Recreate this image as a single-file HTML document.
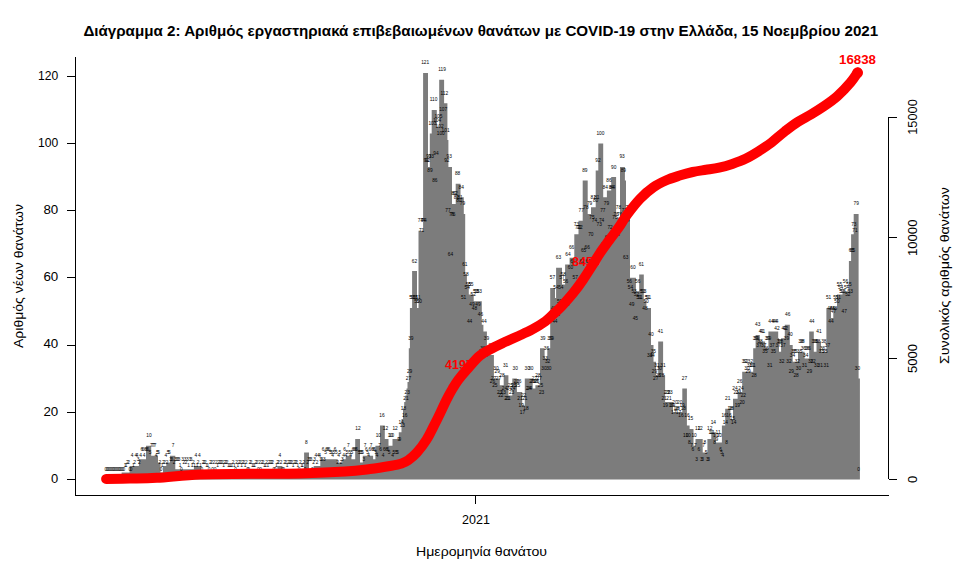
<!DOCTYPE html>
<html><head><meta charset="utf-8"><title>chart</title>
<style>
html,body{margin:0;padding:0;background:#fff;}
svg{display:block;font-family:"Liberation Sans",sans-serif;}
.ax path{stroke:#000;stroke-width:1;fill:none;shape-rendering:crispEdges}
.tl text{font-size:12.5px;fill:#000}
.al text{font-size:13px;fill:#000}
.lb text{font-size:4.8px;fill:#000;text-anchor:middle}
.rl text{font-size:13px;font-weight:bold;fill:#ff0000}
</style></head><body>
<svg width="971" height="569" viewBox="0 0 971 569">
<rect width="971" height="569" fill="#fff"/>
<text x="83.4" y="36" font-size="15" font-weight="bold" textLength="794.8" lengthAdjust="spacingAndGlyphs">Διάγραμμα 2: Αριθμός εργαστηριακά επιβεβαιωμένων θανάτων με COVID-19 στην Ελλάδα, 15 Νοεμβρίου 2021</text>
<polygon points="104.6,479.6 104.6,477.3 121.6,477.3 121.6,472.6 129.6,472.6 129.6,465.9 138.9,465.9 138.9,459.2 146.0,459.2 146.0,445.7 151.2,445.7 151.2,455.8 158.0,455.8 158.0,462.5 160.5,462.5 160.5,472.6 163.0,472.6 163.0,465.9 166.3,465.9 166.3,462.5 170.0,462.5 170.0,455.8 175.3,455.8 175.3,469.2 193.9,469.2 193.9,465.9 201.3,465.9 201.3,472.6 277.4,472.6 277.4,465.9 282.4,465.9 282.4,472.6 304.1,472.6 304.1,452.4 309.0,452.4 309.0,469.2 313.7,469.2 313.7,465.9 320.3,465.9 320.3,459.2 337.7,459.2 337.7,462.5 342.3,462.5 342.3,459.2 345.7,459.2 345.7,455.8 351.4,455.8 351.4,459.2 355.2,459.2 355.2,439.0 360.0,439.0 360.0,462.5 362.8,462.5 362.8,455.8 373.1,455.8 373.1,459.2 375.4,459.2 375.4,445.7 380.0,445.7 380.0,425.6 384.8,425.6 384.8,439.0 388.5,439.0 388.5,445.7 392.5,445.7 392.5,439.0 398.8,439.0 398.8,432.3 401.5,432.3 401.5,418.9 403.0,418.9 403.0,408.8 404.2,408.8 404.2,402.1 405.4,402.1 405.4,395.4 406.5,395.4 406.5,388.6 407.5,388.6 407.5,381.9 408.8,381.9 408.8,348.3 409.9,348.3 409.9,308.0 412.1,308.0 412.1,271.1 417.0,271.1 417.0,308.0 418.5,308.0 418.5,230.8 423.1,230.8 423.1,73.0 428.0,73.0 428.0,167.0 429.8,167.0 429.8,133.4 431.7,133.4 431.7,109.9 436.8,109.9 436.8,126.7 439.2,126.7 439.2,79.7 444.1,79.7 444.1,103.2 447.4,103.2 447.4,140.1 448.4,140.1 448.4,167.0 452.0,167.0 452.0,203.9 455.7,203.9 455.7,183.8 460.5,183.8 460.5,197.2 463.8,197.2 463.8,214.0 465.2,214.0 465.2,274.5 466.9,274.5 466.9,284.5 468.8,284.5 468.8,294.6 473.7,294.6 473.7,301.3 481.8,301.3 481.8,324.8 483.4,324.8 483.4,331.5 486.9,331.5 486.9,348.3 489.3,348.3 489.3,355.1 493.9,355.1 493.9,378.6 499.8,378.6 499.8,385.3 503.7,385.3 503.7,375.2 508.4,375.2 508.4,395.4 512.3,395.4 512.3,378.6 516.9,378.6 516.9,392.0 522.2,392.0 522.2,405.4 524.8,405.4 524.8,378.6 532.7,378.6 532.7,388.6 535.4,388.6 535.4,385.3 540.0,385.3 540.0,348.3 544.6,348.3 544.6,358.4 547.3,358.4 547.3,348.3 550.2,348.3 550.2,287.9 555.0,287.9 555.0,298.0 556.1,298.0 556.1,267.7 562.0,267.7 562.0,284.5 565.1,284.5 565.1,264.4 569.6,264.4 569.6,257.7 574.3,257.7 574.3,234.2 578.5,234.2 578.5,220.7 582.7,220.7 582.7,180.4 587.7,180.4 587.7,214.0 591.0,214.0 591.0,207.3 595.7,207.3 595.7,170.4 598.3,170.4 598.3,143.5 603.2,143.5 603.2,197.2 606.9,197.2 606.9,190.5 611.2,190.5 611.2,177.1 616.1,177.1 616.1,217.4 620.0,217.4 620.0,167.0 624.9,167.0 624.9,180.4 626.0,180.4 626.0,217.4 630.0,217.4 630.0,277.8 635.9,277.8 635.9,291.3 639.2,291.3 639.2,274.5 643.8,274.5 643.8,301.3 646.4,301.3 646.4,308.0 651.0,308.0 651.0,345.0 653.5,345.0 653.5,361.8 656.0,361.8 656.0,375.2 658.2,375.2 658.2,341.6 663.1,341.6 663.1,375.2 665.1,375.2 665.1,402.1 673.0,402.1 673.0,412.1 682.3,412.1 682.3,388.6 686.9,388.6 686.9,425.6 689.6,425.6 689.6,428.9 693.5,428.9 693.5,445.7 695.5,445.7 695.5,439.0 702.7,439.0 702.7,452.4 707.4,452.4 707.4,439.0 711.3,439.0 711.3,432.3 715.9,432.3 715.9,442.4 721.9,442.4 721.9,425.6 725.2,425.6 725.2,408.8 730.4,408.8 730.4,418.9 733.0,418.9 733.0,398.7 737.6,398.7 737.6,392.0 742.2,392.0 742.2,371.8 753.2,371.8 753.2,348.3 755.6,348.3 755.6,334.9 759.8,334.9 759.8,341.6 765.1,341.6 765.1,348.3 768.4,348.3 768.4,331.5 778.2,331.5 778.2,338.3 779.0,338.3 779.0,351.7 781.1,351.7 781.1,338.3 784.8,338.3 784.8,324.8 789.8,324.8 789.8,345.0 792.7,345.0 792.7,361.8 798.0,361.8 798.0,351.7 804.6,351.7 804.6,358.4 809.2,358.4 809.2,331.5 813.8,331.5 813.8,351.7 816.5,351.7 816.5,341.6 821.0,341.6 821.0,351.7 826.4,351.7 826.4,308.0 831.0,308.0 831.0,318.1 833.3,318.1 833.3,308.0 837.0,308.0 837.0,294.6 842.5,294.6 842.5,291.3 848.9,291.3 848.9,261.0 851.1,261.0 851.1,234.2 853.7,234.2 853.7,214.0 858.6,214.0 858.6,378.6 859.9,378.6 859.9,479.6" fill="#7c7c7c"/>
<g class="lb">
<text x="105.8" y="470.7">0</text>
<text x="107.0" y="470.7">0</text>
<text x="108.2" y="470.7">0</text>
<text x="109.4" y="470.7">0</text>
<text x="110.6" y="470.7">0</text>
<text x="111.8" y="470.7">0</text>
<text x="113.0" y="470.7">0</text>
<text x="114.2" y="470.7">0</text>
<text x="115.4" y="470.7">0</text>
<text x="116.6" y="470.7">0</text>
<text x="117.8" y="470.7">0</text>
<text x="119.0" y="470.7">0</text>
<text x="120.2" y="470.7">0</text>
<text x="121.4" y="470.7">0</text>
<text x="122.6" y="470.7">0</text>
<text x="123.8" y="470.7">0</text>
<text x="125.0" y="467.3">1</text>
<text x="126.2" y="467.3">1</text>
<text x="127.4" y="464.0">2</text>
<text x="128.6" y="464.0">2</text>
<text x="129.8" y="470.7">0</text>
<text x="131.0" y="470.7">0</text>
<text x="132.2" y="457.3">4</text>
<text x="133.4" y="467.3">1</text>
<text x="134.6" y="464.0">2</text>
<text x="135.8" y="457.3">4</text>
<text x="137.0" y="457.3">4</text>
<text x="138.2" y="460.6">3</text>
<text x="139.4" y="464.0">2</text>
<text x="140.6" y="457.3">4</text>
<text x="141.8" y="450.6">6</text>
<text x="143.0" y="450.6">6</text>
<text x="144.2" y="457.3">4</text>
<text x="145.4" y="450.6">6</text>
<text x="146.6" y="450.6">6</text>
<text x="147.8" y="450.6">6</text>
<text x="149.0" y="437.1">10</text>
<text x="150.2" y="453.9">5</text>
<text x="151.4" y="447.2">7</text>
<text x="152.6" y="447.2">7</text>
<text x="153.8" y="447.2">7</text>
<text x="155.0" y="447.2">7</text>
<text x="156.2" y="457.3">4</text>
<text x="157.4" y="453.9">5</text>
<text x="158.6" y="453.9">5</text>
<text x="159.8" y="464.0">2</text>
<text x="161.0" y="470.7">0</text>
<text x="162.2" y="467.3">1</text>
<text x="163.4" y="464.0">2</text>
<text x="164.6" y="464.0">2</text>
<text x="165.8" y="457.3">4</text>
<text x="167.0" y="464.0">2</text>
<text x="168.2" y="453.9">5</text>
<text x="169.4" y="453.9">5</text>
<text x="170.6" y="460.6">3</text>
<text x="171.8" y="460.6">3</text>
<text x="173.0" y="447.2">7</text>
<text x="174.2" y="464.0">2</text>
<text x="175.4" y="460.6">3</text>
<text x="176.6" y="460.6">3</text>
<text x="177.8" y="460.6">3</text>
<text x="179.0" y="460.6">3</text>
<text x="180.2" y="467.3">1</text>
<text x="181.4" y="470.7">0</text>
<text x="182.6" y="460.6">3</text>
<text x="183.8" y="464.0">2</text>
<text x="185.0" y="460.6">3</text>
<text x="186.2" y="464.0">2</text>
<text x="187.4" y="460.6">3</text>
<text x="188.6" y="467.3">1</text>
<text x="189.8" y="460.6">3</text>
<text x="191.0" y="460.6">3</text>
<text x="192.2" y="467.3">1</text>
<text x="193.4" y="464.0">2</text>
<text x="194.6" y="467.3">1</text>
<text x="195.8" y="457.3">4</text>
<text x="197.0" y="467.3">1</text>
<text x="198.2" y="464.0">2</text>
<text x="199.4" y="457.3">4</text>
<text x="200.6" y="467.3">1</text>
<text x="201.8" y="470.7">0</text>
<text x="203.0" y="464.0">2</text>
<text x="204.2" y="464.0">2</text>
<text x="205.4" y="464.0">2</text>
<text x="206.7" y="467.3">1</text>
<text x="207.9" y="467.3">1</text>
<text x="209.1" y="470.7">0</text>
<text x="210.3" y="464.0">2</text>
<text x="211.5" y="464.0">2</text>
<text x="212.7" y="470.7">0</text>
<text x="213.9" y="464.0">2</text>
<text x="215.1" y="470.7">0</text>
<text x="216.3" y="464.0">2</text>
<text x="217.5" y="467.3">1</text>
<text x="218.7" y="464.0">2</text>
<text x="219.9" y="464.0">2</text>
<text x="221.1" y="464.0">2</text>
<text x="222.3" y="464.0">2</text>
<text x="223.5" y="467.3">1</text>
<text x="224.7" y="464.0">2</text>
<text x="225.9" y="464.0">2</text>
<text x="227.1" y="464.0">2</text>
<text x="228.3" y="467.3">1</text>
<text x="229.5" y="467.3">1</text>
<text x="230.7" y="467.3">1</text>
<text x="231.9" y="467.3">1</text>
<text x="233.1" y="464.0">2</text>
<text x="234.3" y="467.3">1</text>
<text x="235.5" y="470.7">0</text>
<text x="236.7" y="464.0">2</text>
<text x="237.9" y="467.3">1</text>
<text x="239.1" y="464.0">2</text>
<text x="240.3" y="464.0">2</text>
<text x="241.5" y="467.3">1</text>
<text x="242.7" y="464.0">2</text>
<text x="243.9" y="464.0">2</text>
<text x="245.1" y="467.3">1</text>
<text x="246.3" y="464.0">2</text>
<text x="247.5" y="470.7">0</text>
<text x="248.7" y="470.7">0</text>
<text x="249.9" y="464.0">2</text>
<text x="251.1" y="464.0">2</text>
<text x="252.3" y="467.3">1</text>
<text x="253.5" y="467.3">1</text>
<text x="254.7" y="467.3">1</text>
<text x="255.9" y="464.0">2</text>
<text x="257.1" y="464.0">2</text>
<text x="258.3" y="470.7">0</text>
<text x="259.5" y="464.0">2</text>
<text x="260.7" y="470.7">0</text>
<text x="261.9" y="464.0">2</text>
<text x="263.1" y="464.0">2</text>
<text x="264.3" y="467.3">1</text>
<text x="265.5" y="467.3">1</text>
<text x="266.7" y="464.0">2</text>
<text x="267.9" y="467.3">1</text>
<text x="269.1" y="464.0">2</text>
<text x="270.3" y="464.0">2</text>
<text x="271.5" y="464.0">2</text>
<text x="272.7" y="464.0">2</text>
<text x="273.9" y="470.7">0</text>
<text x="275.1" y="470.7">0</text>
<text x="276.3" y="467.3">1</text>
<text x="277.5" y="464.0">2</text>
<text x="278.7" y="464.0">2</text>
<text x="279.9" y="457.3">4</text>
<text x="281.1" y="464.0">2</text>
<text x="282.3" y="470.7">0</text>
<text x="283.5" y="470.7">0</text>
<text x="284.7" y="464.0">2</text>
<text x="285.9" y="464.0">2</text>
<text x="287.1" y="467.3">1</text>
<text x="288.3" y="464.0">2</text>
<text x="289.5" y="464.0">2</text>
<text x="290.7" y="464.0">2</text>
<text x="291.9" y="464.0">2</text>
<text x="293.1" y="467.3">1</text>
<text x="294.3" y="464.0">2</text>
<text x="295.5" y="464.0">2</text>
<text x="296.7" y="464.0">2</text>
<text x="297.9" y="467.3">1</text>
<text x="299.1" y="470.7">0</text>
<text x="300.3" y="464.0">2</text>
<text x="301.5" y="467.3">1</text>
<text x="302.7" y="467.3">1</text>
<text x="303.9" y="464.0">2</text>
<text x="305.1" y="470.7">0</text>
<text x="306.3" y="443.8">8</text>
<text x="307.5" y="464.0">2</text>
<text x="308.7" y="460.6">3</text>
<text x="309.9" y="460.6">3</text>
<text x="311.1" y="460.6">3</text>
<text x="312.3" y="470.7">0</text>
<text x="313.5" y="464.0">2</text>
<text x="314.7" y="460.6">3</text>
<text x="315.9" y="457.3">4</text>
<text x="317.1" y="464.0">2</text>
<text x="318.3" y="457.3">4</text>
<text x="319.5" y="457.3">4</text>
<text x="320.7" y="460.6">3</text>
<text x="321.9" y="460.6">3</text>
<text x="323.1" y="450.6">6</text>
<text x="324.3" y="460.6">3</text>
<text x="325.5" y="453.9">5</text>
<text x="326.7" y="450.6">6</text>
<text x="327.9" y="450.6">6</text>
<text x="329.1" y="450.6">6</text>
<text x="330.3" y="453.9">5</text>
<text x="331.5" y="453.9">5</text>
<text x="332.7" y="457.3">4</text>
<text x="333.9" y="453.9">5</text>
<text x="335.1" y="450.6">6</text>
<text x="336.3" y="453.9">5</text>
<text x="337.5" y="464.0">2</text>
<text x="338.7" y="457.3">4</text>
<text x="339.9" y="453.9">5</text>
<text x="341.1" y="464.0">2</text>
<text x="342.3" y="460.6">3</text>
<text x="343.5" y="457.3">4</text>
<text x="344.7" y="450.6">6</text>
<text x="345.9" y="457.3">4</text>
<text x="347.1" y="453.9">5</text>
<text x="348.3" y="447.2">7</text>
<text x="349.5" y="453.9">5</text>
<text x="350.7" y="457.3">4</text>
<text x="351.9" y="453.9">5</text>
<text x="353.1" y="450.6">6</text>
<text x="354.3" y="450.6">6</text>
<text x="355.5" y="450.6">6</text>
<text x="356.7" y="450.6">6</text>
<text x="357.9" y="430.4">12</text>
<text x="359.1" y="453.9">5</text>
<text x="360.3" y="453.9">5</text>
<text x="361.5" y="453.9">5</text>
<text x="362.7" y="453.9">5</text>
<text x="363.9" y="460.6">3</text>
<text x="365.1" y="447.2">7</text>
<text x="366.3" y="450.6">6</text>
<text x="367.5" y="453.9">5</text>
<text x="368.7" y="457.3">4</text>
<text x="369.9" y="450.6">6</text>
<text x="371.1" y="447.2">7</text>
<text x="372.3" y="450.6">6</text>
<text x="373.5" y="450.6">6</text>
<text x="374.7" y="450.6">6</text>
<text x="375.9" y="453.9">5</text>
<text x="377.1" y="457.3">4</text>
<text x="378.3" y="437.1">10</text>
<text x="379.5" y="447.2">7</text>
<text x="380.7" y="450.6">6</text>
<text x="381.9" y="417.0">16</text>
<text x="383.1" y="457.3">4</text>
<text x="384.3" y="450.6">6</text>
<text x="385.5" y="430.4">12</text>
<text x="386.7" y="450.6">6</text>
<text x="387.9" y="450.6">6</text>
<text x="389.1" y="453.9">5</text>
<text x="390.3" y="437.1">10</text>
<text x="391.5" y="437.1">10</text>
<text x="392.7" y="457.3">4</text>
<text x="393.9" y="453.9">5</text>
<text x="395.1" y="430.4">12</text>
<text x="396.3" y="453.9">5</text>
<text x="397.5" y="453.9">5</text>
<text x="398.7" y="440.5">9</text>
<text x="399.9" y="440.5">9</text>
<text x="401.1" y="423.7">14</text>
<text x="402.3" y="427.0">13</text>
<text x="403.5" y="410.3">18</text>
<text x="404.7" y="417.0">16</text>
<text x="405.9" y="400.2">21</text>
<text x="407.2" y="393.5">23</text>
<text x="408.4" y="380.0">27</text>
<text x="409.6" y="373.3">29</text>
<text x="410.8" y="339.7">39</text>
<text x="412.0" y="299.4">51</text>
<text x="413.2" y="299.4">51</text>
<text x="414.4" y="262.5">62</text>
<text x="415.6" y="299.4">51</text>
<text x="416.8" y="302.8">50</text>
<text x="418.0" y="299.4">51</text>
<text x="419.2" y="302.8">50</text>
<text x="420.4" y="222.2">74</text>
<text x="421.6" y="232.3">71</text>
<text x="422.8" y="222.2">74</text>
<text x="424.0" y="222.2">74</text>
<text x="425.2" y="64.4">121</text>
<text x="426.4" y="161.8">92</text>
<text x="427.6" y="161.8">92</text>
<text x="428.8" y="158.4">93</text>
<text x="430.0" y="171.8">89</text>
<text x="431.2" y="158.4">93</text>
<text x="432.4" y="124.8">103</text>
<text x="433.6" y="101.3">110</text>
<text x="434.8" y="181.9">86</text>
<text x="436.0" y="155.0">94</text>
<text x="437.2" y="121.5">104</text>
<text x="438.4" y="118.1">105</text>
<text x="439.6" y="128.2">102</text>
<text x="440.8" y="134.9">100</text>
<text x="442.0" y="71.1">119</text>
<text x="443.2" y="111.4">107</text>
<text x="444.4" y="94.6">112</text>
<text x="445.6" y="131.5">101</text>
<text x="446.8" y="161.8">92</text>
<text x="448.0" y="212.1">77</text>
<text x="449.2" y="158.4">93</text>
<text x="450.4" y="255.8">64</text>
<text x="451.6" y="215.5">76</text>
<text x="452.8" y="215.5">76</text>
<text x="454.0" y="195.3">82</text>
<text x="455.2" y="195.3">82</text>
<text x="456.4" y="198.7">81</text>
<text x="457.6" y="175.2">88</text>
<text x="458.8" y="202.1">80</text>
<text x="460.0" y="198.7">81</text>
<text x="461.2" y="188.6">84</text>
<text x="462.4" y="205.4">79</text>
<text x="463.6" y="299.4">51</text>
<text x="464.8" y="265.9">61</text>
<text x="466.0" y="275.9">58</text>
<text x="467.2" y="289.4">54</text>
<text x="468.4" y="286.0">55</text>
<text x="469.6" y="322.9">44</text>
<text x="470.8" y="286.0">55</text>
<text x="472.0" y="306.2">49</text>
<text x="473.2" y="296.1">52</text>
<text x="474.4" y="309.5">48</text>
<text x="475.6" y="292.7">53</text>
<text x="476.8" y="292.7">53</text>
<text x="478.0" y="306.2">49</text>
<text x="479.2" y="292.7">53</text>
<text x="480.4" y="316.2">46</text>
<text x="481.6" y="353.2">35</text>
<text x="482.8" y="349.8">36</text>
<text x="484.0" y="322.9">44</text>
<text x="485.2" y="356.5">34</text>
<text x="486.4" y="339.7">39</text>
<text x="487.6" y="349.8">36</text>
<text x="488.8" y="353.2">35</text>
<text x="490.0" y="349.8">36</text>
<text x="491.2" y="346.5">37</text>
<text x="492.4" y="383.4">26</text>
<text x="493.6" y="380.0">27</text>
<text x="494.8" y="386.8">25</text>
<text x="496.0" y="370.0">30</text>
<text x="497.2" y="373.3">29</text>
<text x="498.4" y="380.0">27</text>
<text x="499.6" y="393.5">23</text>
<text x="500.8" y="396.8">22</text>
<text x="502.0" y="376.7">28</text>
<text x="503.2" y="393.5">23</text>
<text x="504.4" y="390.1">24</text>
<text x="505.6" y="366.6">31</text>
<text x="506.8" y="400.2">21</text>
<text x="508.0" y="400.2">21</text>
<text x="509.2" y="390.1">24</text>
<text x="510.4" y="386.8">25</text>
<text x="511.6" y="393.5">23</text>
<text x="512.8" y="390.1">24</text>
<text x="514.0" y="386.8">25</text>
<text x="515.2" y="370.0">30</text>
<text x="516.4" y="383.4">26</text>
<text x="517.6" y="386.8">25</text>
<text x="518.8" y="383.4">26</text>
<text x="520.0" y="400.2">21</text>
<text x="521.2" y="406.9">19</text>
<text x="522.4" y="413.6">17</text>
<text x="523.6" y="396.8">22</text>
<text x="524.8" y="400.2">21</text>
<text x="526.0" y="410.3">18</text>
<text x="527.2" y="370.0">30</text>
<text x="528.4" y="390.1">24</text>
<text x="529.6" y="390.1">24</text>
<text x="530.8" y="370.0">30</text>
<text x="532.0" y="383.4">26</text>
<text x="533.2" y="383.4">26</text>
<text x="534.4" y="380.0">27</text>
<text x="535.6" y="383.4">26</text>
<text x="536.8" y="383.4">26</text>
<text x="538.0" y="376.7">28</text>
<text x="539.2" y="380.0">27</text>
<text x="540.4" y="386.8">25</text>
<text x="541.6" y="393.5">23</text>
<text x="542.8" y="339.7">39</text>
<text x="544.0" y="370.0">30</text>
<text x="545.2" y="359.9">33</text>
<text x="546.4" y="349.8">36</text>
<text x="547.6" y="363.2">32</text>
<text x="548.8" y="370.0">30</text>
<text x="550.0" y="339.7">39</text>
<text x="551.2" y="339.7">39</text>
<text x="552.4" y="279.3">57</text>
<text x="553.6" y="309.5">48</text>
<text x="554.8" y="322.9">44</text>
<text x="556.0" y="289.4">54</text>
<text x="557.2" y="316.2">46</text>
<text x="558.4" y="259.1">63</text>
<text x="559.6" y="302.8">50</text>
<text x="560.8" y="289.4">54</text>
<text x="562.0" y="279.3">57</text>
<text x="563.2" y="275.9">58</text>
<text x="564.4" y="306.2">49</text>
<text x="565.6" y="282.7">56</text>
<text x="566.8" y="306.2">49</text>
<text x="568.0" y="255.8">64</text>
<text x="569.2" y="299.4">51</text>
<text x="570.4" y="269.2">60</text>
<text x="571.6" y="249.1">66</text>
<text x="572.8" y="262.5">62</text>
<text x="574.0" y="292.7">53</text>
<text x="575.2" y="279.3">57</text>
<text x="576.4" y="225.6">73</text>
<text x="577.6" y="228.9">72</text>
<text x="578.8" y="228.9">72</text>
<text x="580.0" y="228.9">72</text>
<text x="581.2" y="212.1">77</text>
<text x="582.4" y="262.5">62</text>
<text x="583.6" y="252.4">65</text>
<text x="584.8" y="171.8">89</text>
<text x="586.0" y="208.8">78</text>
<text x="587.2" y="249.1">66</text>
<text x="588.4" y="262.5">62</text>
<text x="589.6" y="205.4">79</text>
<text x="590.8" y="235.6">70</text>
<text x="592.0" y="218.9">75</text>
<text x="593.2" y="198.7">81</text>
<text x="594.4" y="222.2">74</text>
<text x="595.6" y="202.1">80</text>
<text x="596.8" y="198.7">81</text>
<text x="598.0" y="161.8">92</text>
<text x="599.2" y="225.6">73</text>
<text x="600.4" y="134.9">100</text>
<text x="601.6" y="222.2">74</text>
<text x="602.8" y="212.1">77</text>
<text x="604.0" y="245.7">67</text>
<text x="605.2" y="188.6">84</text>
<text x="606.5" y="205.4">79</text>
<text x="607.7" y="239.0">69</text>
<text x="608.9" y="181.9">86</text>
<text x="610.1" y="228.9">72</text>
<text x="611.3" y="188.6">84</text>
<text x="612.5" y="188.6">84</text>
<text x="613.7" y="168.5">90</text>
<text x="614.9" y="218.9">75</text>
<text x="616.1" y="215.5">76</text>
<text x="617.3" y="235.6">70</text>
<text x="618.5" y="208.8">78</text>
<text x="619.7" y="215.5">76</text>
<text x="620.9" y="225.6">73</text>
<text x="622.1" y="158.4">93</text>
<text x="623.3" y="171.8">89</text>
<text x="624.5" y="212.1">77</text>
<text x="625.7" y="259.1">63</text>
<text x="626.9" y="222.2">74</text>
<text x="628.1" y="208.8">78</text>
<text x="629.3" y="282.7">56</text>
<text x="630.5" y="289.4">54</text>
<text x="631.7" y="306.2">49</text>
<text x="632.9" y="269.2">60</text>
<text x="634.1" y="292.7">53</text>
<text x="635.3" y="319.6">45</text>
<text x="636.5" y="296.1">52</text>
<text x="637.7" y="282.7">56</text>
<text x="638.9" y="299.4">51</text>
<text x="640.1" y="299.4">51</text>
<text x="641.3" y="265.9">61</text>
<text x="642.5" y="292.7">53</text>
<text x="643.7" y="292.7">53</text>
<text x="644.9" y="309.5">48</text>
<text x="646.1" y="302.8">50</text>
<text x="647.3" y="299.4">51</text>
<text x="648.5" y="299.4">51</text>
<text x="649.7" y="356.5">34</text>
<text x="650.9" y="336.4">40</text>
<text x="652.1" y="356.5">34</text>
<text x="653.3" y="353.2">35</text>
<text x="654.5" y="373.3">29</text>
<text x="655.7" y="380.0">27</text>
<text x="656.9" y="366.6">31</text>
<text x="658.1" y="376.7">28</text>
<text x="659.3" y="370.0">30</text>
<text x="660.5" y="333.0">41</text>
<text x="661.7" y="376.7">28</text>
<text x="662.9" y="366.6">31</text>
<text x="664.1" y="400.2">21</text>
<text x="665.3" y="406.9">19</text>
<text x="666.5" y="393.5">23</text>
<text x="667.7" y="393.5">23</text>
<text x="668.9" y="400.2">21</text>
<text x="670.1" y="393.5">23</text>
<text x="671.3" y="406.9">19</text>
<text x="672.5" y="406.9">19</text>
<text x="673.7" y="413.6">17</text>
<text x="674.9" y="403.5">20</text>
<text x="676.1" y="410.3">18</text>
<text x="677.3" y="410.3">18</text>
<text x="678.5" y="413.6">17</text>
<text x="679.7" y="403.5">20</text>
<text x="680.9" y="417.0">16</text>
<text x="682.1" y="406.9">19</text>
<text x="683.3" y="410.3">18</text>
<text x="684.5" y="380.0">27</text>
<text x="685.7" y="437.1">10</text>
<text x="686.9" y="417.0">16</text>
<text x="688.1" y="437.1">10</text>
<text x="689.3" y="443.8">8</text>
<text x="690.5" y="420.3">15</text>
<text x="691.7" y="447.2">7</text>
<text x="692.9" y="450.6">6</text>
<text x="694.1" y="437.1">10</text>
<text x="695.3" y="447.2">7</text>
<text x="696.5" y="460.6">3</text>
<text x="697.7" y="430.4">12</text>
<text x="698.9" y="450.6">6</text>
<text x="700.1" y="430.4">12</text>
<text x="701.3" y="460.6">3</text>
<text x="702.5" y="460.6">3</text>
<text x="703.7" y="447.2">7</text>
<text x="704.9" y="443.8">8</text>
<text x="706.1" y="453.9">5</text>
<text x="707.3" y="460.6">3</text>
<text x="708.5" y="460.6">3</text>
<text x="709.7" y="430.4">12</text>
<text x="710.9" y="433.8">11</text>
<text x="712.1" y="433.8">11</text>
<text x="713.3" y="423.7">14</text>
<text x="714.5" y="443.8">8</text>
<text x="715.7" y="437.1">10</text>
<text x="716.9" y="440.5">9</text>
<text x="718.1" y="433.8">11</text>
<text x="719.3" y="437.1">10</text>
<text x="720.5" y="450.6">6</text>
<text x="721.7" y="453.9">5</text>
<text x="722.9" y="457.3">4</text>
<text x="724.1" y="417.0">16</text>
<text x="725.3" y="423.7">14</text>
<text x="726.5" y="443.8">8</text>
<text x="727.7" y="400.2">21</text>
<text x="728.9" y="417.0">16</text>
<text x="730.1" y="410.3">18</text>
<text x="731.3" y="410.3">18</text>
<text x="732.5" y="420.3">15</text>
<text x="733.7" y="423.7">14</text>
<text x="734.9" y="390.1">24</text>
<text x="736.1" y="393.5">23</text>
<text x="737.3" y="406.9">19</text>
<text x="738.5" y="393.5">23</text>
<text x="739.7" y="383.4">26</text>
<text x="740.9" y="390.1">24</text>
<text x="742.1" y="403.5">20</text>
<text x="743.3" y="396.8">22</text>
<text x="744.5" y="363.2">32</text>
<text x="745.7" y="363.2">32</text>
<text x="746.9" y="370.0">30</text>
<text x="748.1" y="373.3">29</text>
<text x="749.3" y="366.6">31</text>
<text x="750.5" y="363.2">32</text>
<text x="751.7" y="366.6">31</text>
<text x="752.9" y="366.6">31</text>
<text x="754.1" y="376.7">28</text>
<text x="755.3" y="339.7">39</text>
<text x="756.5" y="339.7">39</text>
<text x="757.7" y="326.3">43</text>
<text x="758.9" y="346.5">37</text>
<text x="760.1" y="343.1">38</text>
<text x="761.3" y="333.0">41</text>
<text x="762.5" y="333.0">41</text>
<text x="763.7" y="346.5">37</text>
<text x="764.9" y="353.2">35</text>
<text x="766.1" y="349.8">36</text>
<text x="767.3" y="339.7">39</text>
<text x="768.5" y="339.7">39</text>
<text x="769.7" y="366.6">31</text>
<text x="770.9" y="322.9">44</text>
<text x="772.1" y="346.5">37</text>
<text x="773.3" y="353.2">35</text>
<text x="774.5" y="322.9">44</text>
<text x="775.7" y="322.9">44</text>
<text x="776.9" y="329.7">42</text>
<text x="778.1" y="346.5">37</text>
<text x="779.3" y="343.1">38</text>
<text x="780.5" y="343.1">38</text>
<text x="781.7" y="363.2">32</text>
<text x="782.9" y="346.5">37</text>
<text x="784.1" y="329.7">42</text>
<text x="785.3" y="329.7">42</text>
<text x="786.5" y="339.7">39</text>
<text x="787.7" y="316.2">46</text>
<text x="788.9" y="363.2">32</text>
<text x="790.1" y="336.4">40</text>
<text x="791.3" y="373.3">29</text>
<text x="792.5" y="356.5">34</text>
<text x="793.7" y="353.2">35</text>
<text x="794.9" y="353.2">35</text>
<text x="796.1" y="376.7">28</text>
<text x="797.3" y="363.2">32</text>
<text x="798.5" y="370.0">30</text>
<text x="799.7" y="353.2">35</text>
<text x="800.9" y="343.1">38</text>
<text x="802.1" y="343.1">38</text>
<text x="803.3" y="349.8">36</text>
<text x="804.5" y="366.6">31</text>
<text x="805.7" y="356.5">34</text>
<text x="807.0" y="349.8">36</text>
<text x="808.2" y="349.8">36</text>
<text x="809.4" y="373.3">29</text>
<text x="810.6" y="363.2">32</text>
<text x="811.8" y="322.9">44</text>
<text x="813.0" y="363.2">32</text>
<text x="814.2" y="343.1">38</text>
<text x="815.4" y="343.1">38</text>
<text x="816.6" y="366.6">31</text>
<text x="817.8" y="343.1">38</text>
<text x="819.0" y="333.0">41</text>
<text x="820.2" y="366.6">31</text>
<text x="821.4" y="353.2">35</text>
<text x="822.6" y="349.8">36</text>
<text x="823.8" y="343.1">38</text>
<text x="825.0" y="353.2">35</text>
<text x="826.2" y="366.6">31</text>
<text x="827.4" y="346.5">37</text>
<text x="828.6" y="299.4">51</text>
<text x="829.8" y="309.5">48</text>
<text x="831.0" y="322.9">44</text>
<text x="832.2" y="309.5">48</text>
<text x="833.4" y="312.9">47</text>
<text x="834.6" y="309.5">48</text>
<text x="835.8" y="299.4">51</text>
<text x="837.0" y="302.8">50</text>
<text x="838.2" y="299.4">51</text>
<text x="839.4" y="286.0">55</text>
<text x="840.6" y="289.4">54</text>
<text x="841.8" y="292.7">53</text>
<text x="843.0" y="292.7">53</text>
<text x="844.2" y="312.9">47</text>
<text x="845.4" y="282.7">56</text>
<text x="846.6" y="289.4">54</text>
<text x="847.8" y="296.1">52</text>
<text x="849.0" y="286.0">55</text>
<text x="850.2" y="292.7">53</text>
<text x="851.4" y="252.4">65</text>
<text x="852.6" y="252.4">65</text>
<text x="853.8" y="225.6">73</text>
<text x="855.0" y="232.3">71</text>
<text x="856.2" y="205.4">79</text>
<text x="857.4" y="370.0">30</text>
<text x="858.6" y="470.7">0</text>
</g>
<g class="rl">
<text x="445.1" y="368.8" textLength="28" lengthAdjust="spacingAndGlyphs">4197</text>
<text x="571.9" y="265.9" textLength="28" lengthAdjust="spacingAndGlyphs">8453</text>
<text x="839.1" y="63.7" textLength="36.9" lengthAdjust="spacingAndGlyphs">16838</text>
</g>
<path d="M106.1,479.0 C110.1,478.9 121.5,478.8 130.0,478.6 C138.4,478.4 145.1,478.5 156.8,477.8 C168.5,477.1 184.5,475.1 200.0,474.4 C215.5,473.7 233.3,474.0 250.0,473.8 C266.7,473.6 284.2,473.8 300.0,473.4 C315.8,473.0 333.3,472.3 345.0,471.6 C356.7,470.9 362.3,470.0 370.0,469.0 C377.7,468.0 386.1,466.6 391.4,465.7 C396.7,464.8 398.8,464.4 401.6,463.5 C404.4,462.6 405.7,462.1 408.2,460.3 C410.7,458.5 413.7,456.1 416.8,452.7 C419.9,449.2 423.8,444.0 426.6,439.6 C429.4,435.2 431.3,430.8 433.6,426.4 C435.9,422.0 438.1,417.6 440.2,413.2 C442.3,408.8 444.4,404.0 446.4,400.0 C448.4,396.0 450.4,392.3 452.4,389.0 C454.4,385.7 455.9,383.1 458.2,380.0 C460.5,376.9 462.8,374.1 466.4,370.1 C470.0,366.1 475.2,359.5 479.6,355.8 C484.0,352.1 488.3,350.4 492.7,348.0 C497.1,345.6 501.5,343.7 505.9,341.6 C510.3,339.6 514.7,337.7 519.1,335.7 C523.5,333.7 527.9,331.8 532.3,329.4 C536.7,327.0 541.9,323.8 545.5,321.2 C549.1,318.6 551.2,316.1 554.0,313.5 C556.8,310.9 558.8,309.4 562.0,305.9 C565.2,302.4 570.0,297.1 573.5,292.7 C577.0,288.3 580.1,284.0 583.1,279.6 C586.1,275.2 588.9,270.8 591.7,266.4 C594.5,262.0 597.0,257.5 599.9,253.2 C602.8,248.9 605.9,244.8 609.0,240.5 C612.1,236.2 615.6,232.0 618.6,227.7 C621.6,223.4 623.6,219.4 627.2,214.6 C630.8,209.8 635.7,203.4 640.0,198.9 C644.3,194.4 648.8,190.5 653.2,187.4 C657.6,184.3 662.0,182.3 666.4,180.3 C670.8,178.3 675.2,177.0 679.6,175.6 C684.0,174.2 688.3,173.0 692.7,172.0 C697.1,171.0 701.5,170.5 705.9,169.8 C710.3,169.1 714.7,168.6 719.1,167.6 C723.5,166.6 727.9,165.4 732.3,163.9 C736.7,162.4 741.1,160.9 745.5,158.8 C749.9,156.7 754.4,153.9 758.7,151.2 C763.0,148.5 767.1,145.9 771.4,142.6 C775.7,139.3 780.2,135.0 784.6,131.6 C789.0,128.2 793.3,124.8 797.7,122.0 C802.1,119.2 806.5,117.1 810.9,114.5 C815.3,111.9 819.7,109.2 824.1,106.2 C828.5,103.2 832.9,100.2 837.3,96.3 C841.7,92.3 847.1,86.5 850.5,82.5 C853.9,78.5 856.4,74.2 857.6,72.6" fill="none" stroke="#ff0000" stroke-width="10.0" stroke-linecap="round" stroke-linejoin="round"/>
<circle cx="857.6" cy="72.7" r="5.35" fill="#ff0000"/>
<g class="ax">
<path d="M75.5,56.5V495.5H888.5"/>
<path d="M66.5,479.3H75.5"/><path d="M66.5,412.1H75.5"/><path d="M66.5,345.0H75.5"/><path d="M66.5,277.8H75.5"/><path d="M66.5,210.7H75.5"/><path d="M66.5,143.5H75.5"/><path d="M66.5,76.3H75.5"/>
<path d="M888.5,117V479.3"/>
<path d="M888.5,479.3H896.5"/><path d="M888.5,358.5H896.5"/><path d="M888.5,237.8H896.5"/><path d="M888.5,117.0H896.5"/>
<path d="M475.5,495.5V503.5"/>
</g>
<g class="tl">
<text x="51.0" y="482.7" textLength="7.2" lengthAdjust="spacingAndGlyphs">0</text><text x="43.4" y="415.5" textLength="14.8" lengthAdjust="spacingAndGlyphs">20</text><text x="43.4" y="348.4" textLength="14.8" lengthAdjust="spacingAndGlyphs">40</text><text x="43.4" y="281.2" textLength="14.8" lengthAdjust="spacingAndGlyphs">60</text><text x="43.4" y="214.1" textLength="14.8" lengthAdjust="spacingAndGlyphs">80</text><text x="38.0" y="146.9" textLength="20.2" lengthAdjust="spacingAndGlyphs">100</text><text x="38.0" y="79.7" textLength="20.2" lengthAdjust="spacingAndGlyphs">120</text>
<text transform="translate(917.2,479.3) rotate(-90)" text-anchor="middle" textLength="7.2" lengthAdjust="spacingAndGlyphs">0</text><text transform="translate(917.2,358.5) rotate(-90)" text-anchor="middle" textLength="29" lengthAdjust="spacingAndGlyphs">5000</text><text transform="translate(917.2,237.8) rotate(-90)" text-anchor="middle" textLength="36.5" lengthAdjust="spacingAndGlyphs">10000</text><text transform="translate(917.2,117.0) rotate(-90)" text-anchor="middle" textLength="35.5" lengthAdjust="spacingAndGlyphs">15000</text>
<text x="476" y="524" text-anchor="middle">2021</text>
</g><g class="al">
<text x="481.5" y="556" text-anchor="middle" textLength="131" lengthAdjust="spacingAndGlyphs">Ημερομηνία θανάτου</text>
<text transform="translate(22.5,276) rotate(-90)" text-anchor="middle" textLength="144" lengthAdjust="spacingAndGlyphs">Αριθμός νέων θανάτων</text>
<text transform="translate(949,275.6) rotate(-90)" text-anchor="middle" textLength="177" lengthAdjust="spacingAndGlyphs">Συνολικός αριθμός θανάτων</text>
</g>
</svg>
</body></html>
